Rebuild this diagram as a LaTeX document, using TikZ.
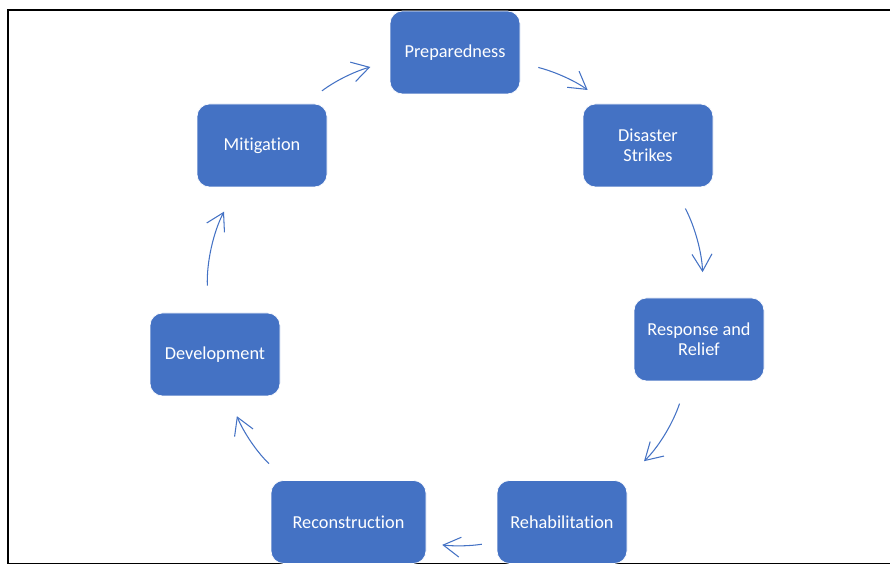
\documentclass[tikz,border=0pt]{standalone}
\usepackage{fontspec}
\setmainfont[Ligatures=NoCommon]{Carlito}
\usepackage{xcolor}
\usepackage{tikz}
\usetikzlibrary{backgrounds}
\usetikzlibrary{arrows.meta,shapes}
\definecolor{phaseblue}{RGB}{68,114,196}
\tikzstyle{phase}=[rectangle,rounded corners=0.25cm,fill=phaseblue,draw=white,line width=0.4pt,text=white,minimum width=2.6cm,minimum height=1.66cm,align=center,inner sep=2pt,font=\fontsize{10.4}{11.4}\selectfont]
\tikzstyle{cycleedge} = [solid,phaseblue,draw,line width=0.6pt,-{Straight Barb[length=0.34cm,width=0.40cm]}]
\tikzstyle{frame} = [solid,black,draw,line width=1.1pt]

\begin{document}
\begin{tikzpicture}
	\useasboundingbox (0,0) rectangle (17.8,11.3);
	\path[frame] (18,11.1) -- (0.16,11.1) -- (0.16,0.03) -- (18,0.03);
	\node[phase] (prep) at (9.10,10.25) {Preparedness};
	\node[phase] (dis) at (12.96,8.39) {Disaster\\Strikes};
	\node[phase] (resp) at (13.98,4.51) {Response and\\Relief};
	\node[phase] (reh) at (11.24,0.86) {Rehabilitation};
	\node[phase,minimum width=3.1cm] (rec) at (6.97,0.86) {Reconstruction};
	\node[phase] (dev) at (4.30,4.21) {Development};
	\node[phase] (mit) at (5.24,8.39) {Mitigation};
	\path[cycleedge,shorten <=0.37cm,shorten >=0.46cm] (prep.-9) to[bend left=11] (dis.135);
	\path[cycleedge,shorten <=0.48cm,shorten >=0.51cm] (dis.-58) to[bend left=13] (resp.84);
	\path[cycleedge,shorten <=0.47cm,shorten >=0.55cm] (resp.-106) to[bend left=14] (reh.34);
	\path[cycleedge,shorten <=0.30cm,shorten >=0.32cm] (reh.-163) to[bend left=8] (rec.-15);
	\path[cycleedge,shorten <=0.48cm,shorten >=0.43cm] (rec.146) to[bend left=12] (dev.-72);
	\path[cycleedge,shorten <=0.54cm,shorten >=0.55cm] (dev.99) to[bend left=15] (mit.-121);
	\path[cycleedge,shorten <=0.42cm,shorten >=0.40cm] (mit.44) to[bend left=11] (prep.188);
\end{tikzpicture}
\end{document}
